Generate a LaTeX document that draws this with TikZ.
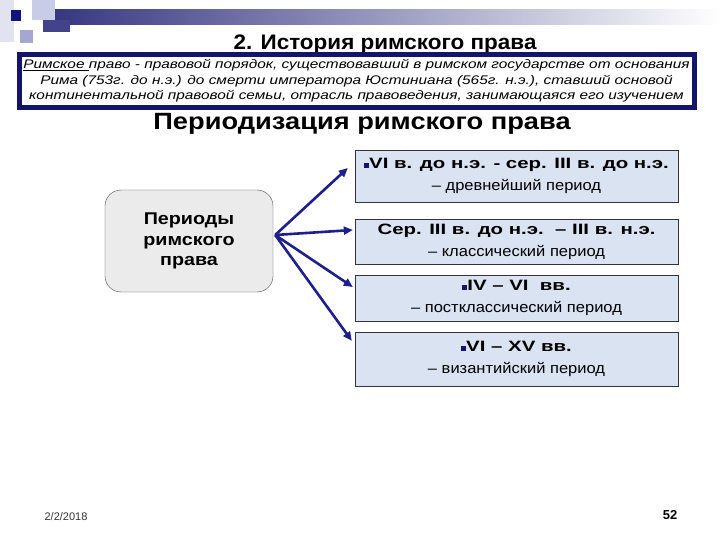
\documentclass[tikz,border=0pt]{standalone}
\usepackage{fontspec}
\setmainfont{Liberation Sans}
\newfontfamily\titlefont{Liberation Sans}[FakeStretch=1.07]
\newfontfamily\headfont{Liberation Sans}[FakeStretch=1.16]
\newfontfamily\deffont{Liberation Sans}[FakeStretch=1.23]
\newfontfamily\datebold{Liberation Sans}[FakeStretch=1.36]
\newfontfamily\datereg{Liberation Sans}[FakeStretch=1.1]
\usetikzlibrary{arrows.meta,positioning,calc}
\definecolor{navy}{HTML}{14146B}
\definecolor{arrowblue}{HTML}{1E1E8C}
\definecolor{lavender}{HTML}{C9CCE6}
\definecolor{periodfill}{HTML}{D9E3F2}
\definecolor{hubfill}{HTML}{EBEBEB}
\newcommand{\sqbullet}{\textcolor{navy}{\rule[1pt]{5pt}{5pt}}}
\tikzset{
  period/.style={
    draw=black!80, fill=periodfill, minimum width=323pt,
    inner sep=2pt, align=center,
    font=\datereg\fontsize{15}{22}\selectfont
  },
  hub/.style={
    draw=black!70, fill=hubfill, rounded corners=16pt,
    minimum width=168pt, minimum height=102pt,
    align=center, font=\headfont\fontsize{17}{20.5}\selectfont\bfseries
  },
  arrow/.style={-{Triangle[length=9pt,width=8pt]}, line width=2.6pt, draw=arrowblue},
  deco/.style={draw=none}
}

\begin{document}
\begin{tikzpicture}[x=1pt,y=-1pt]
    \useasboundingbox[fill=white] (0,0) rectangle (720,540);

    % slide decoration
    \fill[deco, lavender!55] (0,0) rectangle (14,42);
    \fill[deco, lavender] (32,0) rectangle (55,20);
    \fill[deco, lavender!80!navy] (20,30) rectangle (33,43);
    \shade[left color=navy!85, right color=white] (55,10) rectangle (720,25);
    \fill[deco, navy!80] (43,20) rectangle (70,32);
    \fill[deco, navy!90!blue] (11,10) rectangle (21,21);

    \node[font=\titlefont\fontsize{21}{22}\selectfont\bfseries] (title) at (385,44) {2. История римского права};
    \node[draw=navy, line width=5pt, fill=white, minimum width=675pt, minimum height=53pt,
      inner sep=0pt, align=center,
      font=\deffont\fontsize{12.5}{15.5}\selectfont\itshape] (defbox) at (356.5,81)
      {\underline{Римское }право - правовой порядок, существовавший в римском государстве от основания\\
       Рима (753г. до н.э.) до смерти императора Юстиниана (565г. н.э.), ставший основой\\
       континентальной правовой семьи, отрасль правоведения, занимающаяся его изучением};

    \node[font=\headfont\fontsize{23.5}{24}\selectfont\bfseries] (heading) at (362,124) {Периодизация римского права};

    \node[hub] (hub) at (189,241) {Периоды\\римского\\права};

    \node[period, minimum height=52pt] (p1) at (516.5,176)
      {{\datebold\bfseries\sqbullet VI в. до н.э. - сер. III в. до н.э.}\\– древнейший период};
    \node[period, minimum height=45pt] (p2) at (516.5,241.5)
      {{\datebold\bfseries Сер. III в. до н.э.\ \ – III в. н.э.}\\– классический период};
    \node[period, minimum height=46pt] (p3) at (516.5,298)
      {{\datebold\bfseries\sqbullet IV – VI\ \ вв.}\\– постклассический период};
    \node[period, minimum height=54pt] (p4) at (516.5,359)
      {{\datebold\bfseries\sqbullet VI – XV вв.}\\– византийский период};

    \coordinate (fork) at ([shift={(2,-6)}]hub.east);
    \draw[arrow] (fork) -- ([shift={(-7,-8)}]p1.west);
    \draw[arrow] (fork) -- ([shift={(-2,-11.5)}]p2.west);
    \draw[arrow] (fork) -- ([shift={(-2,-11)}]p3.west);
    \draw[arrow] (fork) -- ([shift={(-3,9)}]p4.north west);

    \node[font=\fontsize{11}{12}\selectfont, text=black!80] (date) at (66,517) {2/2/2018};
    \node[font=\fontsize{13}{14}\selectfont\bfseries] (page) at (670,515) {52};
\end{tikzpicture}
\end{document}
